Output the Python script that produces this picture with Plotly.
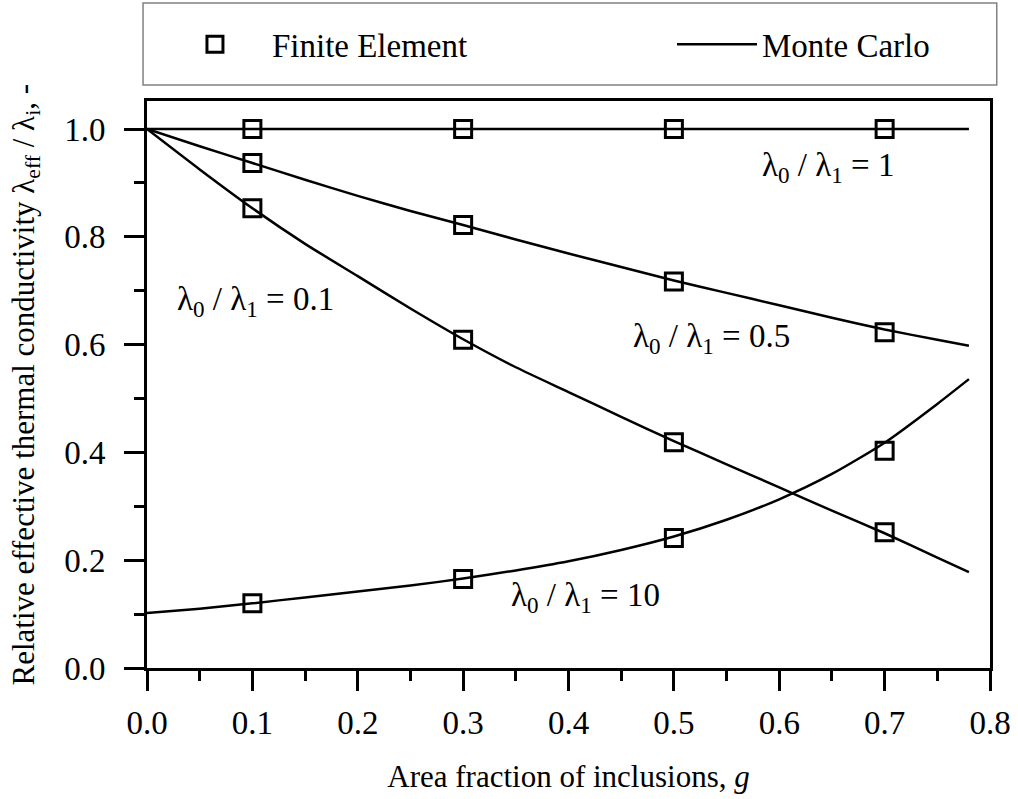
import plotly.graph_objects as go

# ---------------- data ----------------
g_mc = [0.0, 0.05, 0.1, 0.15, 0.2, 0.25, 0.3, 0.35, 0.4, 0.45, 0.5, 0.55, 0.6, 0.65, 0.7, 0.75, 0.78]
mc_ratio_1   = [1.0] * 17
mc_ratio_05  = [1.0, 0.968, 0.937, 0.906, 0.876, 0.848, 0.822, 0.795, 0.769, 0.744, 0.719, 0.696, 0.673, 0.650, 0.628, 0.609, 0.598]
mc_ratio_01  = [1.0, 0.925, 0.853, 0.787, 0.727, 0.667, 0.610, 0.558, 0.512, 0.466, 0.421, 0.378, 0.335, 0.292, 0.250, 0.205, 0.178]
mc_ratio_10  = [0.102, 0.110, 0.120, 0.131, 0.142, 0.153, 0.166, 0.181, 0.198, 0.219, 0.244, 0.275, 0.313, 0.360, 0.418, 0.490, 0.536]

g_fe = [0.1, 0.3, 0.5, 0.7]
fe_ratio_1  = [1.0, 1.0, 1.0, 1.0]
fe_ratio_05 = [0.937, 0.822, 0.717, 0.623]
fe_ratio_01 = [0.853, 0.609, 0.419, 0.252]
fe_ratio_10 = [0.120, 0.165, 0.241, 0.403]

labels = ["λ<sub>0</sub> / λ<sub>1</sub> = 1",
          "λ<sub>0</sub> / λ<sub>1</sub> = 0.1",
          "λ<sub>0</sub> / λ<sub>1</sub> = 0.5",
          "λ<sub>0</sub> / λ<sub>1</sub> = 10"]
label_x = [0.646, 0.103, 0.536, 0.416]
label_y = [0.928, 0.680, 0.612, 0.130]

x_title = "Area fraction of inclusions, <i>g</i>"
y_title = "Relative effective thermal conductivity λ<sub>eff</sub> / λ<sub>i</sub>, -"

FONT = "Liberation Serif"

fig = go.Figure()

fe_sets = [fe_ratio_1, fe_ratio_05, fe_ratio_01, fe_ratio_10]
mc_sets = [mc_ratio_1, mc_ratio_05, mc_ratio_01, mc_ratio_10]

for i, ys in enumerate(mc_sets):
    fig.add_trace(go.Scatter(
        x=g_mc, y=ys, mode="lines", line=dict(color="black", width=2.5, shape="spline", smoothing=0.6),
        name="Monte Carlo", legendgroup="mc", showlegend=(i == 0), legend="legend2"))

for i, ys in enumerate(fe_sets):
    fig.add_trace(go.Scatter(
        x=g_fe, y=ys, mode="markers",
        marker=dict(symbol="square-open", size=17, color="black", line=dict(width=3, color="black")),
        name="Finite Element", legendgroup="fe", showlegend=(i == 0), legend="legend"))

for t, x, y in zip(labels, label_x, label_y):
    fig.add_annotation(x=x, y=y, text=t, showarrow=False, xref="x", yref="y",
                       font=dict(family=FONT, size=33, color="black"))

# y axis title as rotated annotation (placed at the left edge)
fig.add_annotation(x=-0.1447, y=0.5, xref="paper", yref="paper", text=y_title,
                   textangle=-90, showarrow=False, xanchor="center", yanchor="middle",
                   font=dict(family=FONT, size=31, color="black"))

# legend frame
fig.add_shape(type="rect", xref="paper", yref="paper",
              x0=-0.0047, x1=1.008, y0=1.028, y1=1.173,
              line=dict(color="#808080", width=1.5), fillcolor="rgba(0,0,0,0)")

axis_common = dict(
    showline=True, linecolor="black", linewidth=3, mirror=True,
    ticks="outside", ticklen=20, tickwidth=3, tickcolor="black",
    showgrid=False, zeroline=False,
    tickfont=dict(family=FONT, size=33, color="black"),
    tickformat=".1f",
)

fig.update_xaxes(range=[0, 0.8], dtick=0.1, tick0=0,
                 minor=dict(dtick=0.05, ticklen=10, tickwidth=3, tickcolor="black", ticks="outside"),
                 title=dict(text=x_title, font=dict(family=FONT, size=31, color="black"), standoff=26),
                 ticklabelstandoff=3,
                 **axis_common)
fig.update_yaxes(range=[0, 1.052], dtick=0.2, tick0=0,
                 minor=dict(dtick=0.1, ticklen=10, tickwidth=3, tickcolor="black", ticks="outside"),
                 ticklabelstandoff=12,
                 **axis_common)

legend_common = dict(orientation="h", y=1.10, xanchor="left", yanchor="middle",
                     font=dict(family=FONT, size=33, color="black"),
                     bgcolor="rgba(0,0,0,0)", borderwidth=0)

fig.update_layout(
    width=1018, height=799,
    margin=dict(l=147, r=28, t=101, b=131, autoexpand=False),
    paper_bgcolor="white", plot_bgcolor="white",
    font=dict(family=FONT, size=30, color="black"),
    legend=dict(x=0.013, itemwidth=104, **legend_common),
    legend2=dict(x=0.6228, itemwidth=80, **legend_common),
)

fig.write_html("out.html")
